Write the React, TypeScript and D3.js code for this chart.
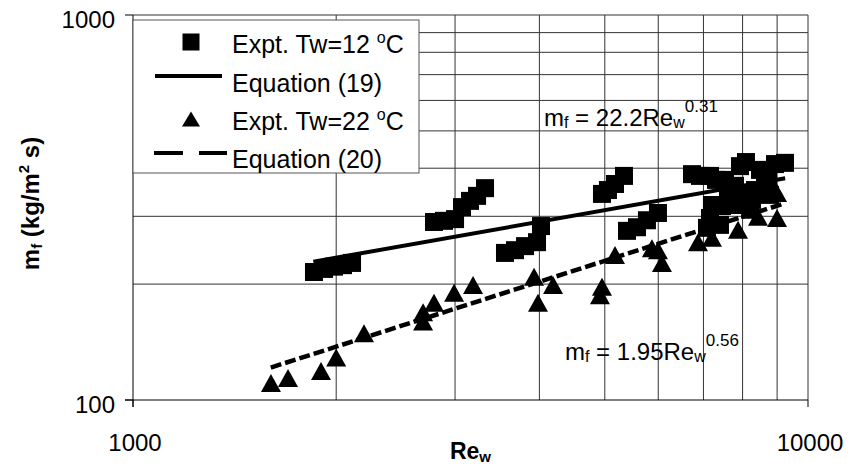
import React from "react";
import * as d3 from "d3";

// Expt. Tw=12 oC  (squares)
const reCold = [1854, 1919, 1985, 2047, 2111, 2792, 2889, 3000, 3072, 3157, 3234, 3323, 3557, 3681, 3809, 3968, 4022, 4952, 5054, 5177, 5338, 5393, 5580, 5773, 5994, 6732, 6918, 7158, 7306, 7930, 8093, 8490, 8936, 9245, 7611, 7796, 8066, 8346, 7207, 7158, 7085, 7457, 8724, 8260, 7534, 8636, 7796, 8207, 8784, 7406];
const mfCold = [215, 219, 222, 224, 227, 290, 292, 295, 317, 329, 339, 355, 241, 245, 251, 257, 283, 343, 351, 364, 382, 275, 281, 293, 306, 386, 382, 382, 373, 405, 415, 396, 410, 413, 345, 360, 345, 351, 321, 297, 280, 319, 377, 331, 373, 373, 321, 312, 341, 285];

// Expt. Tw=22 oC  (triangles)
const reWarm = [1601, 1697, 1899, 2000, 2199, 2690, 2690, 2792, 2990, 3190, 3928, 3981, 4191, 4918, 4952, 5177, 5872, 5994, 6076, 6871, 7207, 7876, 8432, 8998, 8998];
const mfWarm = [110.7, 114, 119, 129, 149, 169, 160, 179, 190, 199, 209, 179, 199, 187, 197, 238, 248, 245, 227, 257, 264, 277, 299, 297, 345];

// Equation (19) and (20), end points of the fitted lines
const reEq19 = [1850, 9250];
const mfEq19 = [228.7, 376.6];
const reEq20 = [1600, 9250];
const mfEq20 = [121.4, 324.5];

const xTicks = [1000, 10000];
const yTicks = [100, 1000];
const xGrid = [2000, 3000, 4000, 5000, 6000, 7000, 8000, 9000, 10000];
const yGrid = [200, 300, 400, 500, 600, 700, 800, 900, 1000];

const width = 850;
const height = 468;
const margin = { top: 15, right: 42, bottom: 68, left: 133 };
const font = "'Liberation Sans', Arial, sans-serif";

const triangle = (cx: number, cy: number, w = 20, h = 18) =>
  `M${cx},${cy - h / 2}L${cx + w / 2},${cy + h / 2}L${cx - w / 2},${cy + h / 2}Z`;

export default function App() {
  const x = d3
    .scaleLog()
    .domain([1000, 10000])
    .range([margin.left, width - margin.right]);
  const y = d3
    .scaleLog()
    .domain([100, 1000])
    .range([height - margin.bottom, margin.top]);

  const line = d3
    .line<number[]>()
    .x((d) => x(d[0]))
    .y((d) => y(d[1]));
  const eq19 = reEq19.map((r, i) => [r, mfEq19[i]]);
  const eq20 = reEq20.map((r, i) => [r, mfEq20[i]]);

  const x0 = margin.left;
  const x1 = width - margin.right;
  const y0 = height - margin.bottom;
  const y1 = margin.top;
  const sq = 18;

  return (
    <svg
      width={width}
      height={height}
      style={{ position: "absolute", left: 0, top: 0, background: "#fff" }}
      fontFamily={font}
    >
      {/* grid */}
      {xGrid.map((v) => (
        <line key={"gx" + v} x1={x(v)} x2={x(v)} y1={y0} y2={y1} stroke="#333" strokeWidth={1} />
      ))}
      {yGrid.map((v) => (
        <line key={"gy" + v} x1={x0} x2={x1} y1={y(v)} y2={y(v)} stroke="#333" strokeWidth={1} />
      ))}

      {/* axes */}
      <line x1={x0} x2={x0} y1={y1} y2={y0 + 7} stroke="#000" />
      <line x1={x0 - 8} x2={x1} y1={y0} y2={y0} stroke="#000" />
      {yTicks.map((v) => (
        <g key={"yt" + v}>
          <line x1={x0 - 8} x2={x0} y1={y(v)} y2={y(v)} stroke="#000" />
          <text x={x0 - 18} y={y(v) + 13} fontSize={24} textAnchor="end">
            {v}
          </text>
        </g>
      ))}
      {xTicks.map((v) => (
        <g key={"xt" + v}>
          <line x1={x(v)} x2={x(v)} y1={y0} y2={y0 + 7} stroke="#000" />
          <text x={x(v) + 2} y={y0 + 51} fontSize={24} textAnchor="middle">
            {v}
          </text>
        </g>
      ))}

      {/* fitted lines */}
      <path d={line(eq19) || ""} fill="none" stroke="#000" strokeWidth={4} />
      <path
        d={line(eq20) || ""}
        fill="none"
        stroke="#000"
        strokeWidth={4.5}
        strokeDasharray="11 4"
      />

      {/* data */}
      {reCold.map((r, i) => (
        <rect
          key={"c" + i}
          x={x(r) - sq / 2}
          y={y(mfCold[i]) - sq / 2}
          width={sq}
          height={sq}
          fill="#000"
        />
      ))}
      {reWarm.map((r, i) => (
        <path key={"w" + i} d={triangle(x(r), y(mfWarm[i]))} fill="#000" />
      ))}

      {/* legend */}
      <rect x={x0} y={20} width={286} height={153} fill="#fff" stroke="#555" strokeWidth={1} />
      <rect x={191 - 8.5} y={42 - 8.5} width={17} height={17} fill="#000" />
      <text x={232} y={53} fontSize={25}>
        Expt. Tw=12 <tspan fontSize={16} dy={-10}>o</tspan>
        <tspan dy={10}>C</tspan>
      </text>
      <line x1={155} x2={222} y1={76} y2={76} stroke="#000" strokeWidth={4} />
      <text x={232} y={92} fontSize={25}>
        Equation (19)
      </text>
      <path d={triangle(191, 119, 18, 15)} fill="#000" />
      <text x={232} y={130} fontSize={25}>
        Expt. Tw=22 <tspan fontSize={16} dy={-10}>o</tspan>
        <tspan dy={10}>C</tspan>
      </text>
      <line x1={154} x2={183} y1={153} y2={153} stroke="#000" strokeWidth={4} />
      <line x1={199} x2={227} y1={153} y2={153} stroke="#000" strokeWidth={4} />
      <text x={232} y={168} fontSize={25}>
        Equation (20)
      </text>

      {/* equation notes */}
      <text x={544} y={126} fontSize={24}>
        m<tspan fontSize={16} dy={2}>f</tspan>
        <tspan dy={-2}> = 22.2Re</tspan>
        <tspan fontSize={16} dy={2}>w</tspan>
        <tspan fontSize={17} dy={-16}>0.31</tspan>
      </text>
      <text x={565} y={360} fontSize={24}>
        m<tspan fontSize={16} dy={2}>f</tspan>
        <tspan dy={-2}> = 1.95Re</tspan>
        <tspan fontSize={16} dy={2}>w</tspan>
        <tspan fontSize={17} dy={-16}>0.56</tspan>
      </text>

      {/* axis titles */}
      <text x={(x0 + x1) / 2} y={459} fontSize={23} fontWeight="bold" textAnchor="middle">
        Re<tspan fontSize={15} dy={3}>w</tspan>
      </text>
      <text
        transform={`translate(39, ${(y0 + y1) / 2 - 4}) rotate(-90)`}
        fontSize={24}
        fontWeight="bold"
        textAnchor="middle"
      >
        m<tspan fontSize={15} dy={3}>f</tspan>
        <tspan dy={-3}> (kg/m</tspan>
        <tspan fontSize={15} dy={-10}>2</tspan>
        <tspan dy={10}> s)</tspan>
      </text>
    </svg>
  );
}
